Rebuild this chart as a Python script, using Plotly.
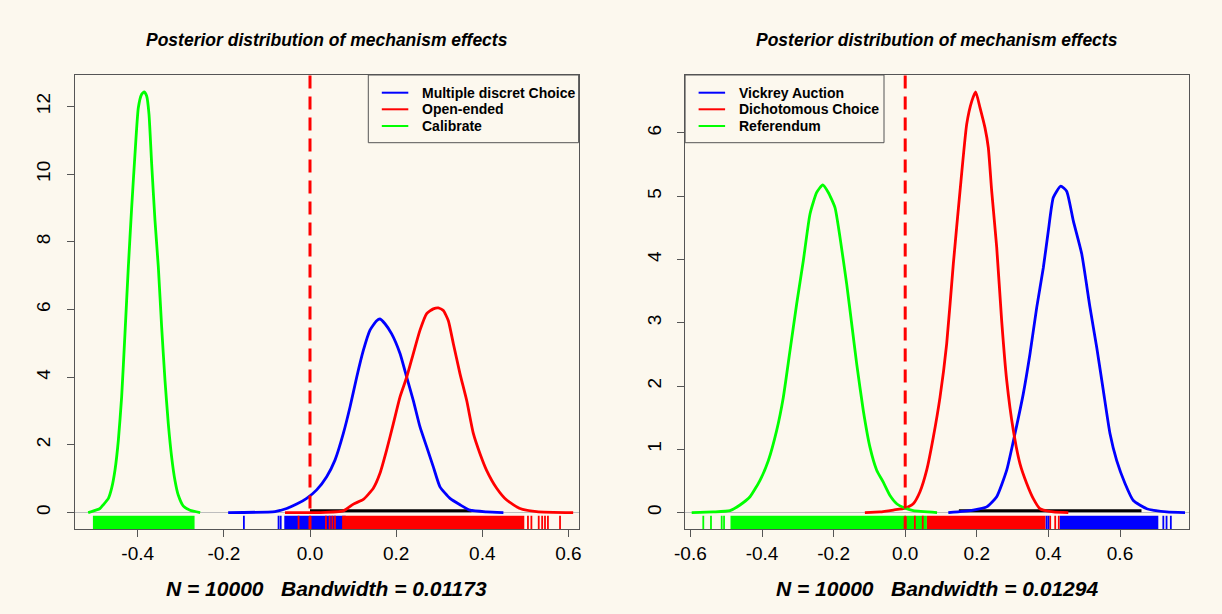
import plotly.graph_objects as go

# ---------------- data ----------------
# Left panel: Multiple discret Choice (blue), Open-ended (red), Calibrate (green)
blue_L_x = [-0.19, -0.0813, -0.0542, -0.0309, -0.0077, 0.0155, 0.0387, 0.058, 0.0774, 0.0929, 0.1084,
            0.1238, 0.1393, 0.1548, 0.1625, 0.1741, 0.1896, 0.209, 0.2245, 0.2399, 0.2554, 0.2709,
            0.2863, 0.3018, 0.325, 0.3483, 0.3715, 0.410, 0.449]
blue_L_y = [0, 0.03, 0.12, 0.25, 0.42, 0.67, 1.06, 1.55, 2.34, 3.12, 4.00, 4.79, 5.39, 5.67, 5.72,
            5.58, 5.28, 4.70, 4.00, 3.31, 2.53, 1.94, 1.35, 0.76, 0.42, 0.23, 0.07, 0.02, 0]
red_L_x = [-0.058, 0.023, 0.0774, 0.1007, 0.1238, 0.147, 0.1625, 0.178, 0.1935, 0.209, 0.2245, 0.2399,
           0.2554, 0.2709, 0.2863, 0.298, 0.3096, 0.3212, 0.3328, 0.3483, 0.3638, 0.3792, 0.3947,
           0.410, 0.4334, 0.4566, 0.4876, 0.5263, 0.611]
red_L_y = [0, 0, 0.05, 0.25, 0.39, 0.72, 1.16, 1.85, 2.63, 3.42, 4.00, 4.70, 5.39, 5.88, 6.02, 6.05,
           5.97, 5.67, 4.99, 4.10, 3.31, 2.34, 1.74, 1.25, 0.72, 0.37, 0.12, 0.03, 0]
green_L_x = [-0.515, -0.4876, -0.480, -0.468, -0.4605, -0.4528, -0.445, -0.4373, -0.4296, -0.4218,
             -0.414, -0.4063, -0.3986, -0.3908, -0.3847, -0.3792, -0.3738, -0.3676, -0.3599, -0.3521,
             -0.3444, -0.3367, -0.329, -0.3212, -0.3135, -0.3057, -0.294, -0.2786, -0.255]
green_L_y = [0, 0.12, 0.23, 0.42, 0.72, 1.25, 2.13, 3.42, 5.28, 7.25, 9.02, 10.60, 11.96, 12.36,
             12.43, 12.31, 11.77, 10.30, 8.63, 7.25, 5.48, 3.91, 2.63, 1.64, 0.95, 0.51, 0.19, 0.07, 0]

# Right panel: Vickrey Auction (blue), Dichotomous Choice (red), Referendum (green)
blue_R_x = [0.1204, 0.190, 0.2277, 0.2556, 0.2835, 0.3067, 0.3299, 0.3486, 0.3673, 0.3858, 0.3997,
            0.4137, 0.4344, 0.451, 0.4696, 0.493, 0.5162, 0.535, 0.5534, 0.572, 0.5908, 0.614,
            0.6372, 0.6746, 0.7304, 0.7816]
blue_R_y = [0, 0.04, 0.09, 0.25, 0.67, 1.25, 1.88, 2.51, 3.24, 3.87, 4.45, 4.98, 5.16, 5.08, 4.61,
            4.09, 3.24, 2.61, 1.93, 1.25, 0.82, 0.46, 0.19, 0.06, 0.01, 0]
red_R_x = [-0.1126, -0.0704, -0.033, 0.0, 0.0226, 0.0413, 0.06, 0.0785, 0.0972, 0.1159, 0.1344,
           0.1531, 0.1718, 0.1858, 0.1969, 0.2089, 0.2229, 0.2321, 0.2416, 0.2556, 0.2695, 0.2835,
           0.302, 0.3207, 0.3394, 0.3578, 0.3765, 0.4137, 0.4556]
red_R_y = [0, 0.01, 0.04, 0.07, 0.14, 0.33, 0.67, 1.19, 1.82, 2.67, 3.93, 5.08, 6.14, 6.50, 6.65,
           6.40, 6.08, 5.77, 5.08, 4.19, 3.03, 2.09, 1.30, 0.77, 0.46, 0.22, 0.06, 0.01, 0]
green_R_x = [-0.5964, -0.536, -0.4894, -0.4615, -0.4335, -0.4056, -0.3824, -0.359, -0.3405, -0.3218,
             -0.3031, -0.2846, -0.2659, -0.2472, -0.2304, -0.2148, -0.1961, -0.1821, -0.1634,
             -0.1494, -0.1355, -0.117, -0.0983, -0.0796, -0.0612, -0.0425, -0.0237, 0.0, 0.0226, 0.089]
green_R_y = [0, 0.01, 0.03, 0.12, 0.25, 0.51, 0.82, 1.30, 1.82, 2.56, 3.30, 3.98, 4.72, 5.06, 5.18,
             5.06, 4.82, 4.35, 3.61, 2.98, 2.35, 1.61, 1.03, 0.67, 0.48, 0.27, 0.14, 0.07, 0.03, 0]

# rug plots: dense bands (start, end) and isolated ticks
rug_green_bands_L = [(-0.504, -0.268)]
rug_green_ticks_L = []
rug_blue_bands_L = [(-0.0597, 0.083)]
rug_blue_ticks_L = [-0.1535, -0.073, -0.068]
rug_red_bands_L = [(0.0746, 0.4975)]
rug_red_ticks_L = [-0.0265, 0.0, 0.037, 0.0455, 0.052, 0.058, 0.506, 0.514, 0.531, 0.539, 0.5456,
                   0.5524, 0.5805]

rug_green_bands_R = [(-0.488, 0.0606)]
rug_green_ticks_R = [-0.564, -0.5425, -0.5126, -0.506]
rug_red_bands_R = [(0.0606, 0.392)]
rug_red_ticks_R = [0.0, 0.027, 0.049, 0.405, 0.419, 0.429]
rug_blue_bands_R = [(0.432, 0.707)]
rug_blue_ticks_R = [0.395, 0.40, 0.721, 0.730, 0.742]

# black segment on the zero line
black_seg_L = [0.0, 0.375]
black_seg_R = [0.15, 0.66]

names_L = ["Multiple discret Choice", "Open-ended", "Calibrate"]
names_R = ["Vickrey Auction", "Dichotomous Choice", "Referendum"]

xlabel_L = "N = 10000\u00a0\u00a0\u00a0Bandwidth = 0.01173"
xlabel_R = "N = 10000\u00a0\u00a0\u00a0Bandwidth = 0.01294"
title_txt = "Posterior distribution of mechanism effects"

xticks_L = [-0.4, -0.2, 0.0, 0.2, 0.4, 0.6]
xticklabels_L = ["-0.4", "-0.2", "0.0", "0.2", "0.4", "0.6"]
xticks_R = [-0.6, -0.4, -0.2, 0.0, 0.2, 0.4, 0.6]
xticklabels_R = ["-0.6", "-0.4", "-0.2", "0.0", "0.2", "0.4", "0.6"]
yticks_L = [0, 2, 4, 6, 8, 10, 12]
yticks_R = [0, 1, 2, 3, 4, 5, 6]

xrange_L = [-0.5456, 0.6236]
yrange_L = [-0.497, 12.93]
xrange_R = [-0.6148, 0.7916]
yrange_R = [-0.266, 6.916]

# ---------------- styling ----------------
BG = "#FCF8EE"
AX = "#555555"
BLUE, RED, GREEN = "#0000FF", "#FF0000", "#00FF00"
FONT = "Liberation Sans, Arial, sans-serif"
W, H = 1222, 614

fig = go.Figure()


def rug(xa, ya, yr, bands, ticks, color):
    lo = yr[0]
    hi = yr[0] + 0.03 * (yr[1] - yr[0])
    for a, b in bands:
        fig.add_trace(go.Scatter(x=[a, b, b, a, a], y=[lo, lo, hi, hi, lo], mode="lines",
                                 fill="toself", fillcolor=color, line=dict(width=0, color=color),
                                 xaxis=xa, yaxis=ya, showlegend=False, hoverinfo="skip"))
    if ticks:
        xs, ys = [], []
        for t in ticks:
            xs += [t, t, None]
            ys += [lo, hi, None]
        fig.add_trace(go.Scatter(x=xs, y=ys, mode="lines", line=dict(width=1.8, color=color),
                                 xaxis=xa, yaxis=ya, showlegend=False, hoverinfo="skip"))


def panel(xa, ya, yr, curves, names, black_seg, rugs):
    for bands, ticks, color in rugs:
        rug(xa, ya, yr, bands, ticks, color)
    fig.add_trace(go.Scatter(x=black_seg, y=[0.004 * (yr[1] - yr[0])] * 2, mode="lines",
                             line=dict(width=3, color="black"), xaxis=xa, yaxis=ya,
                             showlegend=False, hoverinfo="skip"))
    for (cx, cy, color), nm in zip(curves, names):
        fig.add_trace(go.Scatter(x=cx, y=cy, mode="lines", name=nm,
                                 line=dict(width=2.8, color=color, shape="spline", smoothing=0.5),
                                 xaxis=xa, yaxis=ya, showlegend=False))
    fig.add_trace(go.Scatter(x=[0, 0], y=yr, mode="lines",
                             line=dict(width=3, color=RED, dash="13px,8px"),
                             xaxis=xa, yaxis=ya, showlegend=False, hoverinfo="skip"))


panel("x", "y", yrange_L,
      [(blue_L_x, blue_L_y, BLUE), (red_L_x, red_L_y, RED), (green_L_x, green_L_y, GREEN)],
      names_L, black_seg_L,
      [(rug_green_bands_L, rug_green_ticks_L, GREEN), (rug_blue_bands_L, rug_blue_ticks_L, BLUE),
       (rug_red_bands_L, rug_red_ticks_L, RED)])
panel("x2", "y2", yrange_R,
      [(blue_R_x, blue_R_y, BLUE), (red_R_x, red_R_y, RED), (green_R_x, green_R_y, GREEN)],
      names_R, black_seg_R,
      [(rug_green_bands_R, rug_green_ticks_R, GREEN), (rug_red_bands_R, rug_red_ticks_R, RED),
       (rug_blue_bands_R, rug_blue_ticks_R, BLUE)])

dom_xL = [75 / W, 578.6 / W]
dom_xR = [685.1 / W, 1188.6 / W]
dom_y = [1 - 529.4 / H, 1 - 75 / H]

common_x = dict(showline=True, mirror=True, linecolor=AX, linewidth=1, ticks="outside", ticklen=7,
                tickcolor=AX, tickwidth=1, showgrid=False, zeroline=False, automargin=False,
                tickfont=dict(family=FONT, size=19, color="black"), tickmode="array")
common_y = dict(showline=True, mirror=True, linecolor=AX, linewidth=1, ticks="outside", ticklen=7,
                tickcolor=AX, tickwidth=1, showgrid=False, zeroline=True, zerolinecolor="#BEBEBE",
                zerolinewidth=1, tickangle=-90, tickmode="array", ticklabelstandoff=9,
                automargin=False, tickfont=dict(family=FONT, size=19, color="black"))

fig.update_layout(
    width=W, height=H, paper_bgcolor=BG, plot_bgcolor=BG,
    margin=dict(l=0, r=0, t=0, b=0, pad=0),
    xaxis=dict(domain=dom_xL, range=xrange_L, tickvals=xticks_L, ticktext=xticklabels_L,
               anchor="y", **common_x),
    yaxis=dict(domain=dom_y, range=yrange_L, tickvals=yticks_L,
               ticktext=[str(v) for v in yticks_L], anchor="x", **common_y),
    xaxis2=dict(domain=dom_xR, range=xrange_R, tickvals=xticks_R, ticktext=xticklabels_R,
                anchor="y2", **common_x),
    yaxis2=dict(domain=dom_y, range=yrange_R, tickvals=yticks_R,
                ticktext=[str(v) for v in yticks_R], anchor="x2", **common_y),
    showlegend=False,
)


# manual legends (R-style box legend)
def legend_box(x0, x1, names, colors):
    y0, y1 = 75, 142.7
    fig.add_shape(type="rect", xref="paper", yref="paper", x0=x0 / W, x1=x1 / W,
                  y0=1 - y1 / H, y1=1 - y0 / H, line=dict(color=AX, width=1), fillcolor=BG)
    rows = [92.7, 109.3, 126.0]
    for ry, nm, c in zip(rows, names, colors):
        fig.add_shape(type="line", xref="paper", yref="paper", x0=(x0 + 13.5) / W,
                      x1=(x0 + 40) / W, y0=1 - ry / H, y1=1 - ry / H, line=dict(color=c, width=2))
        fig.add_annotation(text="<b>" + nm + "</b>", xref="paper", yref="paper",
                           x=(x0 + 52) / W, y=1 - ry / H, xanchor="left", yanchor="middle",
                           showarrow=False, font=dict(family=FONT, size=14, color="black"))


legend_box(368.3, 578.6, names_L, [BLUE, RED, GREEN])
legend_box(685.1, 884.0, names_R, [BLUE, RED, GREEN])

for xr in ["x", "x2"]:
    fig.add_annotation(text="<b><i>" + title_txt + "</i></b>", xref=f"{xr} domain", yref="paper",
                       x=0.5, y=1 - 40 / H, xanchor="center", yanchor="middle", showarrow=False,
                       font=dict(family=FONT, size=17.5, color="black"))
fig.add_annotation(text="<b><i>" + xlabel_L + "</i></b>", xref="x domain", yref="paper",
                   x=0.5, y=1 - 588 / H, xanchor="center", yanchor="middle", showarrow=False,
                   font=dict(family=FONT, size=21, color="black"))
fig.add_annotation(text="<b><i>" + xlabel_R + "</i></b>", xref="x2 domain", yref="paper",
                   x=0.5, y=1 - 588 / H, xanchor="center", yanchor="middle", showarrow=False,
                   font=dict(family=FONT, size=21, color="black"))

fig.write_html("out.html", config={"displayModeBar": False},
               post_script="document.body.style.margin='0';document.body.style.padding='0';"
                           "document.body.style.overflow='hidden';")
